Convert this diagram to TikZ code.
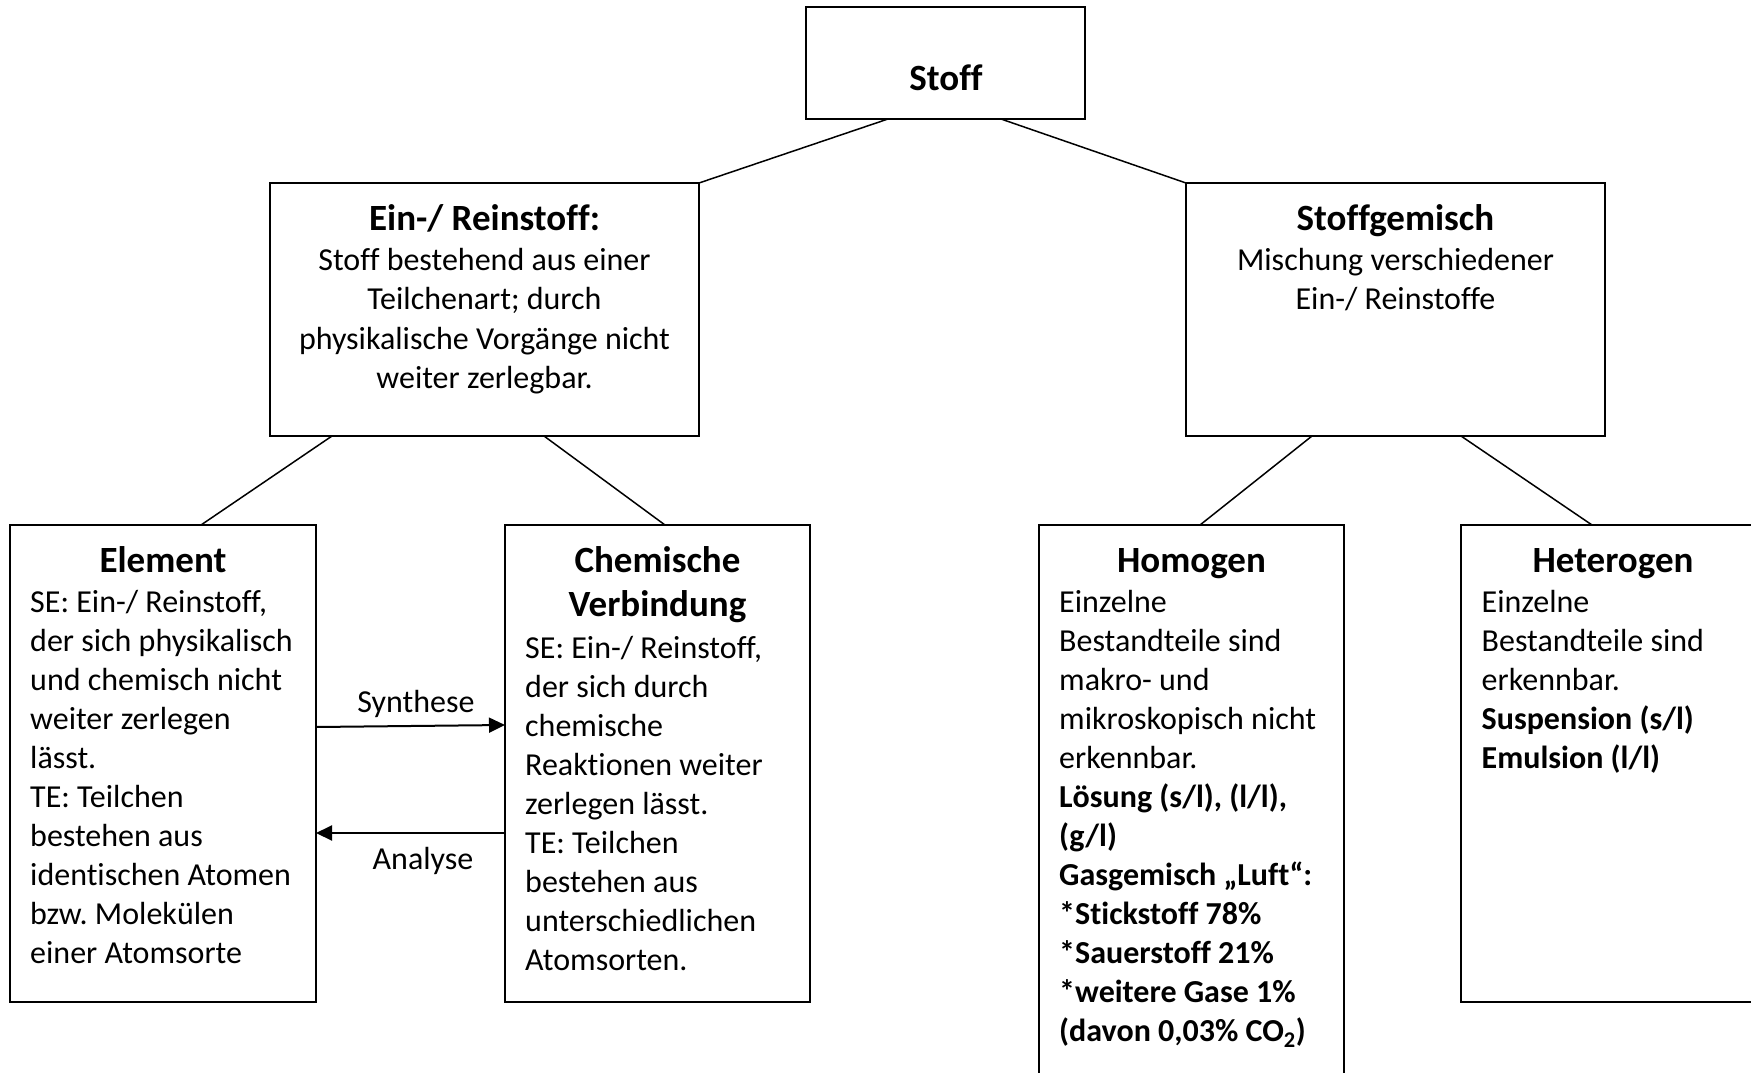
\documentclass[tikz,border=0pt]{standalone}
\usepackage{fontspec}
\setmainfont{Carlito}[Ligatures={NoCommon,NoRare}]
\frenchspacing
\usetikzlibrary{arrows.meta,calc}
\begin{document}
\begin{tikzpicture}[x=1pt,y=-1pt,
  box/.style={draw=black,line width=1.5pt,rectangle,inner sep=0pt,outer sep=0pt,anchor=north west},
  conn/.style={draw=black,line width=1.5pt},
  arr/.style={draw=black,line width=2pt,-{Triangle[length=16pt,width=15pt]}},
  head/.style={inner sep=0pt,anchor=base,font=\fontsize{37}{44}\selectfont\bfseries},
  body/.style={inner sep=0pt,anchor=base west},
  cbody/.style={inner sep=0pt,anchor=base},
  lbl/.style={inner sep=0pt,anchor=base,font=\fontsize{32}{39}\selectfont}]
\fill[white] (0,0) rectangle (1751,1073);
\clip (0,0) rectangle (1751,1073);
% boxes
\node[box,minimum width=279pt,minimum height=112pt] (stoff) at (806,7) {};
\node[box,minimum width=429pt,minimum height=253pt] (ein) at (270,183) {};
\node[box,minimum width=419pt,minimum height=253pt] (gem) at (1186,183) {};
\node[box,minimum width=306pt,minimum height=477pt] (el) at (10,525) {};
\node[box,minimum width=305pt,minimum height=477pt] (chem) at (505,525) {};
\node[box,minimum width=305pt,minimum height=565pt] (hom) at (1039,525) {};
\node[box,minimum width=304pt,minimum height=477pt] (het) at (1461,525) {};
% connectors
\draw[conn] ($(stoff.south west)+(82,0)$) -- (ein.north east);
\draw[conn] ($(stoff.south west)+(195,0)$) -- (gem.north west);
\draw[conn] ($(ein.south west)+(62,0)$) -- ($(el.north west)+(191,0)$);
\draw[conn] ($(ein.south west)+(274,0)$) -- ($(chem.north west)+(160,0)$);
\draw[conn] ($(gem.south west)+(126,0)$) -- ($(hom.north west)+(161,0)$);
\draw[conn] ($(gem.south west)+(275,0)$) -- ($(het.north west)+(131,0)$);
% arrows
\draw[arr] ($(el.north east)+(0,202)$) -- ($(chem.north west)+(0,200)$);
\draw[arr] ($(chem.north west)+(0,308)$) -- ($(el.north east)+(0,308)$);
\node[lbl] (syn) at (416,712) {Synthese};
\node[lbl] (ana) at (423,869) {Analyse};
% texts
\node[head] (stofft) at (946,90) {Stoff};
\node[head] (eint) at (484.5,230) {Ein-/ Reinstoff:};
\node[cbody] (einb) at (484.5,270) {\parbox[t]{420pt}{\centering\fontsize{32}{39.5}\selectfont
Stoff bestehend aus einer\\Teilchenart; durch\\physikalische Vorgänge nicht\\weiter zerlegbar.}};
\node[head] (gemt) at (1395.5,230) {Stoffgemisch};
\node[cbody] (gemb) at (1395.5,270) {\parbox[t]{410pt}{\centering\fontsize{32}{39.5}\selectfont
Mischung verschiedener\\Ein-/ Reinstoffe}};
\node[head] (elt) at (163,572) {Element};
\node[body] (elb) at (30,612.7) {\parbox[t]{290pt}{\raggedright\fontsize{32}{39}\selectfont
SE: Ein-/ Reinstoff,\\der sich physikalisch\\und chemisch nicht\\weiter zerlegen\\lässt.\\TE: Teilchen\\bestehen aus\\identischen Atomen\\bzw. Molekülen\\einer Atomsorte}};
\node[head] (chemt1) at (657.5,572.7) {Chemische};
\node[head] (chemt2) at (657.5,616.7) {Verbindung};
\node[body] (chemb) at (525,658) {\parbox[t]{290pt}{\raggedright\fontsize{32}{39}\selectfont
SE: Ein-/ Reinstoff,\\der sich durch\\chemische\\Reaktionen weiter\\zerlegen lässt.\\TE: Teilchen\\bestehen aus\\unterschiedlichen\\Atomsorten.}};
\node[head] (homt) at (1191.5,572) {Homogen};
\node[body] (homb) at (1059,612.7) {\parbox[t]{290pt}{\raggedright\fontsize{32}{39}\selectfont
Einzelne\\Bestandteile sind\\makro- und\\mikroskopisch nicht\\erkennbar.\\\textbf{Lösung (s/l), (l/l),}\\\textbf{(g/l)}\\\textbf{Gasgemisch „Luft“:}\\\textbf{*Stickstoff 78\%}\\\textbf{*Sauerstoff 21\%}\\\textbf{*weitere Gase 1\%}\\\textbf{(davon 0,03\% CO\textsubscript{2})}}};
\node[head] (hett) at (1613,572) {Heterogen};
\node[body] (hetb) at (1481.5,612.7) {\parbox[t]{290pt}{\raggedright\fontsize{32}{39}\selectfont
Einzelne\\Bestandteile sind\\erkennbar.\\\textbf{Suspension (s/l)}\\\textbf{Emulsion (l/l)}}};
\end{tikzpicture}
\end{document}
